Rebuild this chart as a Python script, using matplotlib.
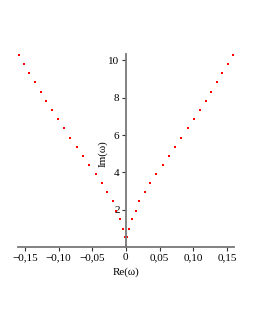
import matplotlib
matplotlib.use('Agg')
import matplotlib.pyplot as plt

# eigenvalue branch (right half), mirrored for the left half
re_right = [0.0, 0.0015, 0.0045, 0.0089, 0.0144, 0.0198, 0.0278, 0.0361, 0.0450,
            0.0545, 0.0634, 0.0728, 0.0822, 0.0917, 0.1006, 0.1095, 0.1184,
            0.1267, 0.1352, 0.1431, 0.1516, 0.1594]
im_vals = [0.05, 0.52, 0.98, 1.49, 1.95, 2.45, 2.93, 3.42, 3.91, 4.40, 4.88,
           5.38, 5.86, 6.36, 6.85, 7.35, 7.85, 8.33, 8.83, 9.33, 9.83, 10.31]
re_left = [-r for r in re_right]

xticks = [-0.15, -0.10, -0.05, 0, 0.05, 0.10, 0.15]
xtick_labels = ['\u22120,15', '\u22120,10', '\u22120,05', '0', '0,05', '0,10', '0,15']
yticks = [2, 4, 6, 8, 10]
ytick_labels = ['2', '4', '6', '8', '10']

plt.rcParams['font.family'] = ['Liberation Serif', 'DejaVu Serif']

fig = plt.figure(figsize=(2.55, 3.30), dpi=100)
ax = fig.add_axes([0.071, 0.2515, 0.845, 0.585])

ax.plot(re_right, im_vals, 's', color='red', markersize=1.8, markeredgewidth=0)
ax.plot(re_left, im_vals, 's', color='red', markersize=1.8, markeredgewidth=0)

ax.set_xlim(-0.16, 0.16)
ax.set_ylim(0, 10.35)

ax.spines['top'].set_visible(False)
ax.spines['right'].set_visible(False)
ax.spines['left'].set_position(('data', 0))
for s in ['left', 'bottom']:
    ax.spines[s].set_color('#777777')
    ax.spines[s].set_linewidth(1.3)

ax.set_xticks(xticks)
ax.set_xticklabels(xtick_labels)
ax.set_yticks(yticks)
ax.set_yticklabels(ytick_labels)
ax.tick_params(axis='both', labelsize=8, length=3, width=0.8, color='#333333', pad=1.5)

fig.text(0.494, 0.176, 'Re(\u03c9)', ha='center', va='center', fontsize=8)
fig.text(0.404, 0.533, 'Im(\u03c9)', ha='center', va='center', fontsize=8, rotation=90)

fig.savefig('out.png', dpi=100)
